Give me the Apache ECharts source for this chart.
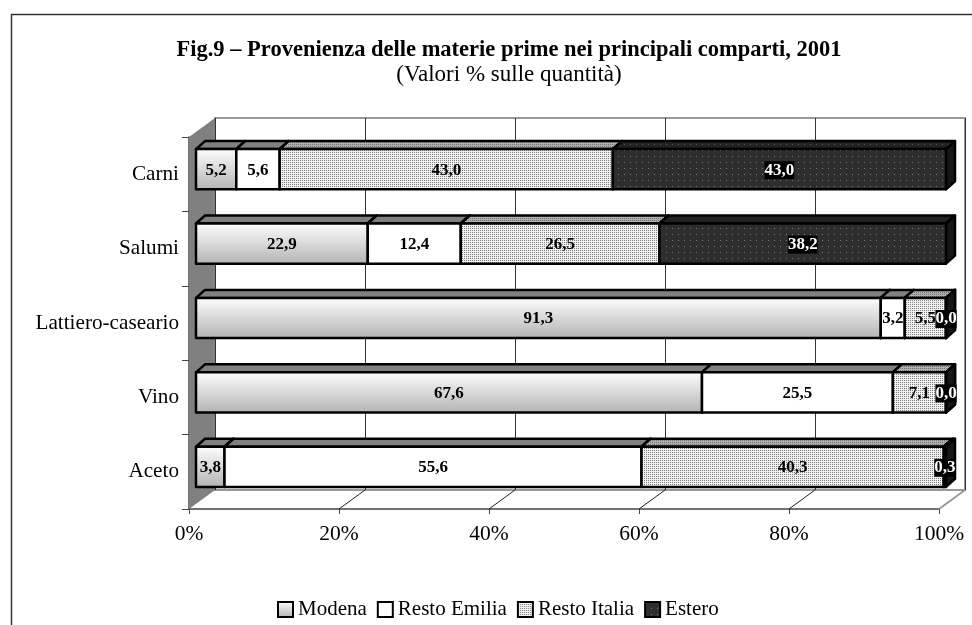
<!DOCTYPE html>
<html>
<head>
<meta charset="utf-8">
<style>
html, body { margin: 0; padding: 0; background: #fff; }
#main { width: 972px; height: 625px; }
</style>
<script src="https://cdn.jsdelivr.net/npm/echarts@6/dist/echarts.min.js"></script>
</head>
<body>
<div id="main"></div>
<script>
var categories = ["Carni", "Salumi", "Lattiero-caseario", "Vino", "Aceto"];
var seriesNames = ["Modena", "Resto Emilia", "Resto Italia", "Estero"];
var modena = [5.2, 22.9, 91.3, 67.6, 3.8];
var restoEmilia = [5.6, 12.4, 3.2, 25.5, 55.6];
var restoItalia = [43.0, 26.5, 5.5, 7.1, 40.3];
var estero = [43.0, 38.2, 0.0, 0.0, 0.3];
var tickValues = [0, 20, 40, 60, 80, 100];

var serif = '"Liberation Serif", "Times New Roman", serif';

// piani del grafico 3D
var front = { left: 189, top: 137, width: 750, height: 372 };
var depth = { x: 26, y: -19 };
var barOffset = { x: 7, y: -6 };
var barDepth = { x: 9, y: -8 };

function pattern(size, bg, dot, step) {
  var c = document.createElement("canvas");
  c.width = c.height = size;
  var ctx = c.getContext("2d");
  ctx.fillStyle = bg;
  ctx.fillRect(0, 0, size, size);
  ctx.fillStyle = dot;
  for (var x = 0; x < size; x += step) {
    for (var y = 0; y < size; y += step) {
      ctx.fillRect(x, y, 1, 1);
    }
  }
  return { image: c, repeat: "repeat" };
}

var modenaFill = {
  type: "linear", x: 0, y: 0, x2: 0, y2: 1,
  colorStops: [{ offset: 0, color: "#ffffff" }, { offset: 1, color: "#b2b2b2" }]
};
var styles = [
  { front: modenaFill, top: "#808080", side: "#808080" },
  { front: "#ffffff", top: "#808080", side: "#808080" },
  { front: pattern(4, "#f0f0f0", "#808080", 2), top: pattern(4, "#b0b0b0", "#707070", 2), side: "#9a9a9a" },
  { front: pattern(6, "#2e2e2e", "#7a7a7a", 6), top: pattern(6, "#222222", "#555555", 6), side: "#161616" }
];

var rows = [modena, restoEmilia, restoItalia, estero];

// percentuali normalizzate sul totale di riga, come un grafico in pila 100%
function stackRows(serieIndex) {
  return categories.map(function (name, i) {
    var total = 0, before = 0;
    rows.forEach(function (r, k) {
      total += r[i];
      if (k < serieIndex) before += r[i];
    });
    var val = rows[serieIndex][i];
    return [i, before / total * 100, (before + val) / total * 100, val];
  });
}

function renderBar(serieIndex) {
  var st = styles[serieIndex];
  return function (params, api) {
    var cat = api.value(0);
    var a = api.coord([api.value(1), cat]);
    var b = api.coord([api.value(2), cat]);
    var h = api.size([0, 1])[1] * 0.54;
    var x0 = a[0], x1 = b[0], y0 = a[1] - h / 2 + 1, y1 = a[1] + h / 2 + 1;
    var dx = barDepth.x, dy = barDepth.y;
    var line = { stroke: "#000", lineWidth: 2.5, lineJoin: "round" };
    function poly(points, fill) {
      return {
        type: "polygon",
        shape: { points: points },
        style: Object.assign({ fill: fill }, line)
      };
    }
    var label = api.value(3).toFixed(1).replace(".", ",");
    var dark = serieIndex === 3;
    return {
      type: "group",
      children: [
        poly([[x0, y0], [x0 + dx, y0 + dy], [x1 + dx, y0 + dy], [x1, y0]], st.top),
        poly([[x1, y0], [x1 + dx, y0 + dy], [x1 + dx, y1 + dy], [x1, y1]], st.side),
        poly([[x0, y0], [x1, y0], [x1, y1], [x0, y1]], st.front),
        {
          type: "text",
          z2: 10,
          style: {
            x: (x0 + x1) / 2,
            y: (y0 + y1) / 2 + 1,
            text: label,
            align: "center",
            verticalAlign: "middle",
            font: "bold 17px " + serif,
            fill: dark ? "#fff" : "#000",
            backgroundColor: dark ? "#000" : null,
            padding: dark ? [1, 0, 0, 0] : 0
          }
        }
      ]
    };
  };
}

function renderFloorLine(params, api) {
  var p = api.coord([api.value(0), categories.length - 1]);
  var y = front.top + front.height;
  return {
    type: "line",
    shape: { x1: p[0], y1: y, x2: p[0] + depth.x, y2: y + depth.y },
    style: { stroke: "#222", lineWidth: 1 }
  };
}

var barSeries = seriesNames.map(function (name, i) {
  return {
    name: name,
    type: "custom",
    xAxisIndex: 2,
    yAxisIndex: 2,
    z: 5,
    itemStyle: { color: styles[i].front },
    encode: { x: [1, 2], y: 0 },
    data: stackRows(i),
    renderItem: renderBar(i)
  };
});

var option = {
  animation: false,
  backgroundColor: "#fff",
  title: {
    text: "Fig.9 – Provenienza delle materie prime nei principali comparti, 2001",
    subtext: "(Valori % sulle quantità)",
    left: 509,
    top: 39,
    padding: 0,
    textAlign: "center",
    itemGap: 1,
    textStyle: { fontFamily: serif, fontWeight: "bold", fontSize: 22.5, color: "#000" },
    subtextStyle: { fontFamily: serif, fontSize: 23, color: "#000" }
  },
  legend: {
    data: seriesNames,
    left: 277,
    top: 599,
    icon: "rect",
    itemWidth: 15,
    itemHeight: 15,
    itemGap: 10,
    padding: 0,
    selectedMode: false,
    itemStyle: { borderColor: "#000", borderWidth: 2 },
    textStyle: { fontFamily: serif, fontSize: 21, color: "#000" }
  },
  grid: [
    { left: front.left, top: front.top, width: front.width, height: front.height },
    {
      left: front.left + depth.x, top: front.top + depth.y,
      width: front.width, height: front.height,
      show: true, borderColor: "#999", borderWidth: 2, backgroundColor: "transparent"
    },
    {
      left: front.left + barOffset.x, top: front.top + barOffset.y,
      width: front.width, height: front.height
    }
  ],
  xAxis: [
    {
      gridIndex: 0, type: "value", min: 0, max: 100, interval: 20,
      axisLine: { show: true, lineStyle: { color: "#444", width: 1.5 } },
      axisTick: { show: true, length: 5, lineStyle: { color: "#444" } },
      splitLine: { show: false },
      axisLabel: { formatter: "{value}%", margin: 14, fontFamily: serif, fontSize: 21.5, color: "#000" }
    },
    {
      gridIndex: 1, type: "value", min: 0, max: 100, interval: 20,
      axisLine: { show: false }, axisTick: { show: false }, axisLabel: { show: false },
      splitLine: { show: true, lineStyle: { color: "#333", width: 1 } }
    },
    {
      gridIndex: 2, type: "value", min: 0, max: 100, show: false
    }
  ],
  yAxis: [
    {
      gridIndex: 0, type: "category", data: categories, inverse: true,
      axisLine: { show: true, lineStyle: { color: "#444", width: 1.5 } },
      axisTick: { show: true, length: 7, lineStyle: { color: "#444" } },
      axisLabel: { margin: 10, padding: [7, 0, 0, 0], fontFamily: serif, fontSize: 21.2, color: "#000" }
    },
    {
      gridIndex: 1, type: "category", data: categories, inverse: true, show: false
    },
    {
      gridIndex: 2, type: "category", data: categories, inverse: true, show: false
    }
  ],
  graphic: [
    // cornice
    {
      type: "polyline", z: 0,
      shape: { points: [[11.5, 625], [11.5, 14.5], [972, 14.5]] },
      style: { fill: null, stroke: "#333", lineWidth: 1.5 }
    },
    // parete sinistra
    {
      type: "polygon", z: 1,
      shape: {
        points: [
          [front.left, front.top],
          [front.left + depth.x, front.top + depth.y],
          [front.left + depth.x, front.top + depth.y + front.height],
          [front.left, front.top + front.height]
        ]
      },
      style: { fill: "#808080" }
    },
    // bordo destro del pavimento
    {
      type: "line", z: 1,
      shape: {
        x1: front.left + front.width, y1: front.top + front.height,
        x2: front.left + front.width + depth.x, y2: front.top + front.height + depth.y
      },
      style: { stroke: "#999", lineWidth: 2 }
    }
  ],
  series: [
    {
      type: "custom",
      xAxisIndex: 0,
      yAxisIndex: 0,
      z: 3,
      silent: true,
      data: tickValues.slice(1, 5).map(function (v) { return [v]; }),
      encode: { x: 0 },
      renderItem: renderFloorLine
    }
  ].concat(barSeries)
};

var chart = echarts.init(document.getElementById("main"));
chart.setOption(option);
</script>
</body>
</html>
